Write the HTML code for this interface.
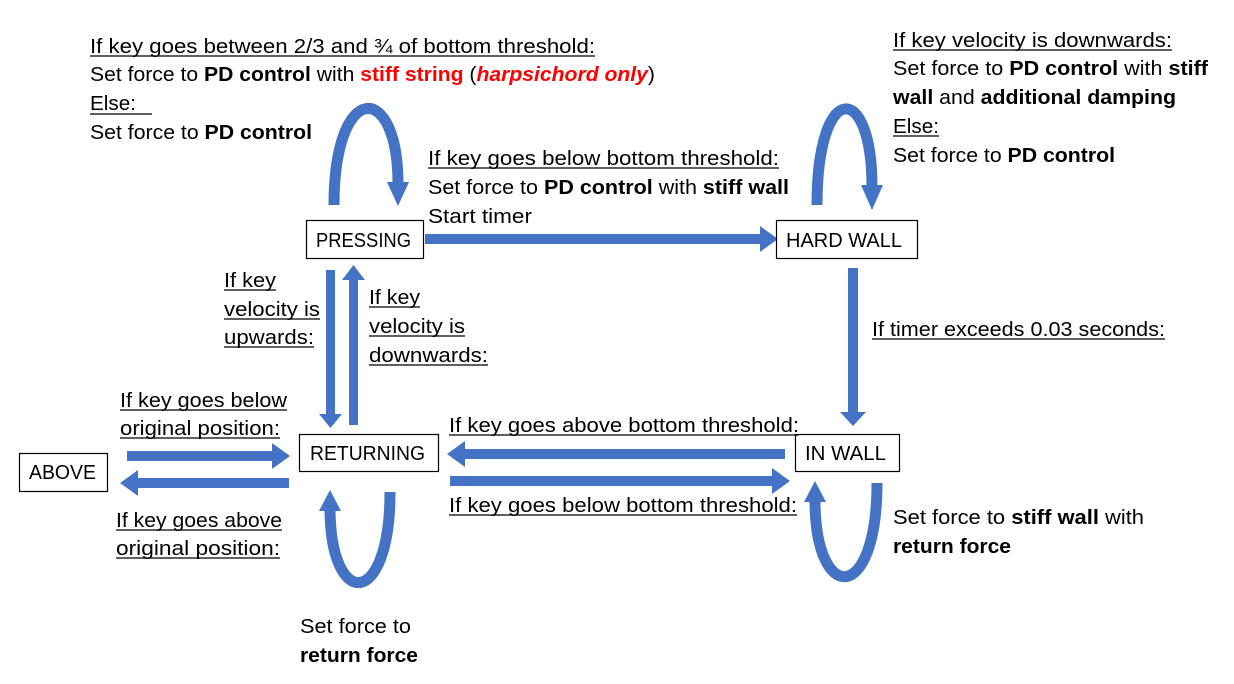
<!DOCTYPE html>
<html><head><meta charset="utf-8"><style>
html,body{margin:0;padding:0;background:#fff}
svg{display:block}
text{font-family:"Liberation Sans",sans-serif;font-size:20px;fill:#000}
.b{font-weight:bold}
.r{fill:#ff0000;font-weight:bold}
</style></head><body>
<svg width="1234" height="684" viewBox="0 0 1234 684" xmlns="http://www.w3.org/2000/svg">
<g fill="#4472C4" stroke="none">
<polygon points="425,234 760,234 760,226 778,239 760,252 760,244 425,244"/>
<polygon points="848,268 858,268 858,412 866,412 853,426 840,412 848,412"/>
<polygon points="326,270 335,270 335,414 342,414 330.5,428 319,414 326,414"/>
<polygon points="349,425 358,425 358,280 365,280 353.5,265 342,280 349,280"/>
<polygon points="785,449 785,459 465,459 465,467 447,454 465,441 465,449"/>
<polygon points="450,476 772,476 772,468 790,481 772,494 772,486 450,486"/>
<polygon points="127,451 272,451 272,443 290,456 272,469 272,461 127,461"/>
<polygon points="289,478 289,488 138,488 138,496 120,483 138,470 138,478"/>
<polygon points="387,182 409,182 398,206"/>
<polygon points="861,185 883,185 872,210"/>
<polygon points="319,511 341,511 330,490"/>
<polygon points="804,502 826,502 815,481"/>
</g>
<g fill="none" stroke="#4472C4" stroke-width="11">
<path d="M334,205 C334,80 398,80 398,184"/>
<path d="M817,205 C817,80 872,80 872,187"/>
<path d="M330,508 C330,610 390,610 390,492"/>
<path d="M815,500 C815,605 877,605 877,483"/>
</g>
<g fill="#fff" stroke="#000" stroke-width="1.2">
<rect x="306.5" y="220.5" width="117" height="38"/>
<rect x="776.5" y="220.5" width="141" height="38"/>
<rect x="299.5" y="434.5" width="139" height="37"/>
<rect x="19.5" y="453.5" width="88" height="38"/>
<rect x="795.5" y="434.5" width="104" height="37"/>
</g>
<text x="316" y="247" textLength="95" lengthAdjust="spacingAndGlyphs">PRESSING</text>
<text x="786" y="247" textLength="116" lengthAdjust="spacingAndGlyphs">HARD WALL</text>
<text x="310" y="460" textLength="115" lengthAdjust="spacingAndGlyphs">RETURNING</text>
<text x="29" y="479" textLength="67" lengthAdjust="spacingAndGlyphs">ABOVE</text>
<text x="805" y="460" textLength="81" lengthAdjust="spacingAndGlyphs">IN WALL</text>

<g stroke="#000" stroke-width="1.3">
<line x1="90" y1="56" x2="595" y2="56"/>
<line x1="90" y1="114" x2="152" y2="114"/>
<line x1="428" y1="168" x2="779" y2="168"/>
<line x1="893" y1="50" x2="1172" y2="50"/>
<line x1="893" y1="136" x2="939" y2="136"/>
<line x1="224" y1="290" x2="276" y2="290"/>
<line x1="224" y1="319" x2="320" y2="319"/>
<line x1="224" y1="347" x2="314" y2="347"/>
<line x1="369" y1="307" x2="420" y2="307"/>
<line x1="369" y1="336" x2="465" y2="336"/>
<line x1="369" y1="365" x2="488" y2="365"/>
<line x1="872" y1="339" x2="1165" y2="339"/>
<line x1="449" y1="435" x2="799" y2="435"/>
<line x1="449" y1="515" x2="797" y2="515"/>
<line x1="120" y1="410" x2="287" y2="410"/>
<line x1="120" y1="438" x2="280" y2="438"/>
<line x1="116" y1="530" x2="282" y2="530"/>
<line x1="116" y1="558" x2="280" y2="558"/>
</g>

<text x="90" y="53" textLength="505" lengthAdjust="spacingAndGlyphs">If key goes between 2/3 and ¾ of bottom threshold:</text>
<text x="90" y="81" textLength="565" lengthAdjust="spacingAndGlyphs">Set force to <tspan class="b">PD control</tspan> with <tspan class="r">stiff string</tspan> (<tspan class="r" font-style="italic">harpsichord only</tspan>)</text>
<text x="90" y="110" textLength="46" lengthAdjust="spacingAndGlyphs">Else:</text>
<text x="90" y="139" textLength="222" lengthAdjust="spacingAndGlyphs">Set force to <tspan class="b">PD control</tspan></text>

<text x="428" y="165" textLength="351" lengthAdjust="spacingAndGlyphs">If key goes below bottom threshold:</text>
<text x="428" y="194" textLength="361" lengthAdjust="spacingAndGlyphs">Set force to <tspan class="b">PD control</tspan> with <tspan class="b">stiff wall</tspan></text>
<text x="428" y="223" textLength="104" lengthAdjust="spacingAndGlyphs">Start timer</text>

<text x="893" y="47" textLength="279" lengthAdjust="spacingAndGlyphs">If key velocity is downwards:</text>
<text x="893" y="75" textLength="315" lengthAdjust="spacingAndGlyphs">Set force to <tspan class="b">PD control</tspan> with <tspan class="b">stiff</tspan></text>
<text x="893" y="104" textLength="283" lengthAdjust="spacingAndGlyphs"><tspan class="b">wall</tspan> and <tspan class="b">additional damping</tspan></text>
<text x="893" y="133" textLength="46" lengthAdjust="spacingAndGlyphs">Else:</text>
<text x="893" y="162" textLength="222" lengthAdjust="spacingAndGlyphs">Set force to <tspan class="b">PD control</tspan></text>

<text x="224" y="287" textLength="52" lengthAdjust="spacingAndGlyphs">If key</text>
<text x="224" y="316" textLength="96" lengthAdjust="spacingAndGlyphs">velocity is</text>
<text x="224" y="344" textLength="90" lengthAdjust="spacingAndGlyphs">upwards:</text>
<text x="369" y="304" textLength="51" lengthAdjust="spacingAndGlyphs">If key</text>
<text x="369" y="333" textLength="96" lengthAdjust="spacingAndGlyphs">velocity is</text>
<text x="369" y="362" textLength="119" lengthAdjust="spacingAndGlyphs">downwards:</text>

<text x="872" y="336" textLength="293" lengthAdjust="spacingAndGlyphs">If timer exceeds 0.03 seconds:</text>
<text x="449" y="432" textLength="350" lengthAdjust="spacingAndGlyphs">If key goes above bottom threshold:</text>
<text x="449" y="512" textLength="348" lengthAdjust="spacingAndGlyphs">If key goes below bottom threshold:</text>

<text x="120" y="407" textLength="167" lengthAdjust="spacingAndGlyphs">If key goes below</text>
<text x="120" y="435" textLength="160" lengthAdjust="spacingAndGlyphs">original position:</text>
<text x="116" y="527" textLength="166" lengthAdjust="spacingAndGlyphs">If key goes above</text>
<text x="116" y="555" textLength="164" lengthAdjust="spacingAndGlyphs">original position:</text>

<text x="893" y="524" textLength="251" lengthAdjust="spacingAndGlyphs">Set force to <tspan class="b">stiff wall</tspan> with</text>
<text x="893" y="553" class="b" textLength="118" lengthAdjust="spacingAndGlyphs">return force</text>
<text x="300" y="633" textLength="111" lengthAdjust="spacingAndGlyphs">Set force to</text>
<text x="300" y="662" class="b" textLength="118" lengthAdjust="spacingAndGlyphs">return force</text>
</svg>
</body></html>
